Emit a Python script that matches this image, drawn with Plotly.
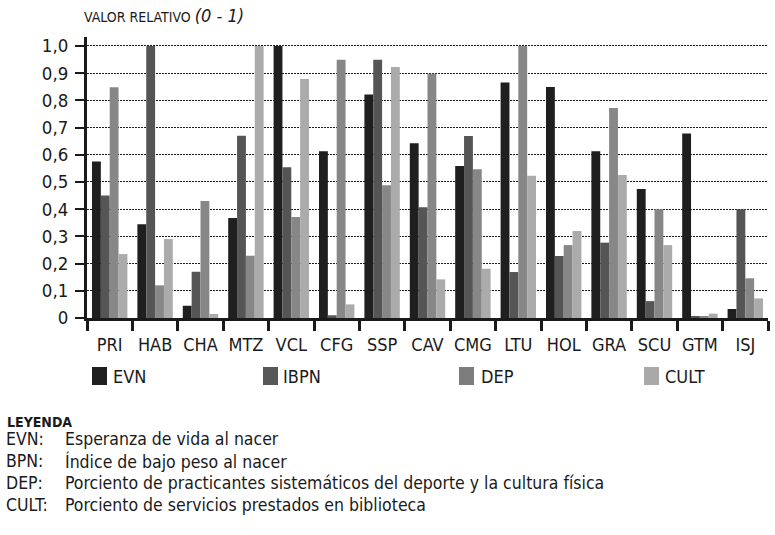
import plotly.graph_objects as go

categories = ["PRI", "HAB", "CHA", "MTZ", "VCL", "CFG", "SSP", "CAV", "CMG", "LTU", "HOL", "GRA", "SCU", "GTM", "ISJ"]
evn  = [0.575, 0.345, 0.045, 0.368, 1.000, 0.613, 0.822, 0.642, 0.559, 0.866, 0.849, 0.613, 0.474, 0.678, 0.033]
ibpn = [0.450, 1.000, 0.170, 0.670, 0.554, 0.010, 0.949, 0.407, 0.669, 0.169, 0.228, 0.277, 0.062, 0.005, 0.400]
dep  = [0.848, 0.120, 0.430, 0.229, 0.371, 0.949, 0.488, 0.898, 0.547, 1.000, 0.268, 0.772, 0.400, 0.004, 0.146]
cult = [0.235, 0.290, 0.015, 1.000, 0.879, 0.050, 0.923, 0.142, 0.181, 0.523, 0.320, 0.526, 0.268, 0.016, 0.072]

series_names = ["EVN", "IBPN", "DEP", "CULT"]
series_values = [evn, ibpn, dep, cult]
bar_colors = ["#1f1f1f", "#555555", "#878787", "#ababab"]
legend_colors = ["#1f1f1f", "#585858", "#7d7d7d", "#a9a9a9"]

y_tick_vals = [0, 0.1, 0.2, 0.3, 0.4, 0.5, 0.6, 0.7, 0.8, 0.9, 1.0]
y_tick_text = ["0", "0,1", "0,2", "0,3", "0,4", "0,5", "0,6", "0,7", "0,8", "0,9", "1,0"]

glossary_keys = ["EVN:", "BPN:", "DEP:", "CULT:"]
glossary_text = [
    "Esperanza de vida al nacer",
    "Índice de bajo peso al nacer",
    "Porciento de practicantes sistemáticos del deporte y la cultura física",
    "Porciento de servicios prestados en biblioteca",
]

FONT = "DejaVu Sans Condensed, Liberation Sans Narrow, Arial Narrow, sans-serif"
INK = "#1a1a1a"
W, H = 775, 535
L, R, T, B = 87, 7, 37, 217
PW, PH = W - L - R, H - T - B


def px(x):
    return (x - L) / PW


def py(y):
    return (H - B - y) / PH


fig = go.Figure()
for name, vals, col in zip(series_names, series_values, bar_colors):
    fig.add_trace(go.Bar(x=categories, y=vals, name=name, marker=dict(color=col, line=dict(width=0)),
                         showlegend=False))

fig.update_layout(
    width=W, height=H,
    margin=dict(l=L, r=R, t=T, b=B, autoexpand=False),
    paper_bgcolor="white", plot_bgcolor="white",
    barmode="group", bargap=0.22, bargroupgap=0,
    font=dict(family=FONT, color=INK, size=18),
    xaxis=dict(type="category", tickson="boundaries", ticks="outside", ticklen=10, tickwidth=3,
               tickcolor=INK, showline=True, linecolor=INK, linewidth=3, tickangle=0,
               ticklabelstandoff=8,
               automargin=False, showgrid=False, tickfont=dict(size=18, family=FONT, color=INK)),
    yaxis=dict(range=[0, 1.033], tickvals=y_tick_vals, ticktext=y_tick_text, ticks="outside",
               ticklen=9, tickwidth=2, tickcolor=INK, showline=True, linecolor=INK,
               linewidth=3, showgrid=True, gridcolor=INK, gridwidth=1, griddash="2px,1px",
               ticklabelstandoff=3,
               zeroline=False, automargin=False, tickfont=dict(size=18.5, family=FONT, color=INK)),
)

annotations = [
    dict(x=px(82), y=py(16), xref="paper", yref="paper", xanchor="left", yanchor="middle",
         text="VALOR RELATIVO <i><span style='font-size:18px'>(0 - 1)</span></i>",
         font=dict(size=14, family=FONT, color=INK), showarrow=False),
    dict(x=px(5), y=py(422), xref="paper", yref="paper", xanchor="left", yanchor="middle",
         text="<b>LEYENDA</b>", font=dict(size=14, family=FONT, color=INK), showarrow=False),
]

shapes = []
legend_sq_x = [92, 263, 459, 644]
legend_txt_x = [111, 281, 479, 663]
for name, col, sx, tx in zip(series_names, legend_colors, legend_sq_x, legend_txt_x):
    shapes.append(dict(type="rect", xref="paper", yref="paper", x0=px(sx), x1=px(sx + 15),
                       y0=py(385), y1=py(367), fillcolor=col, line=dict(width=0)))
    annotations.append(dict(x=px(tx), y=py(376), xref="paper", yref="paper", xanchor="left",
                            yanchor="middle", text=name, showarrow=False,
                            font=dict(size=18, family=FONT, color=INK)))

glossary_y = [439, 461, 483, 505]
for k, t, gy in zip(glossary_keys, glossary_text, glossary_y):
    annotations.append(dict(x=px(4), y=py(gy), xref="paper", yref="paper", xanchor="left",
                            yanchor="middle", text=k, showarrow=False,
                            font=dict(size=17.5, family=FONT, color=INK)))
    annotations.append(dict(x=px(63), y=py(gy), xref="paper", yref="paper", xanchor="left",
                            yanchor="middle", text=t, showarrow=False,
                            font=dict(size=17.5, family=FONT, color=INK)))

fig.update_layout(annotations=annotations, shapes=shapes)
fig.write_html("out.html", config={"displayModeBar": False},
               post_script="document.body.style.margin='0px';")
